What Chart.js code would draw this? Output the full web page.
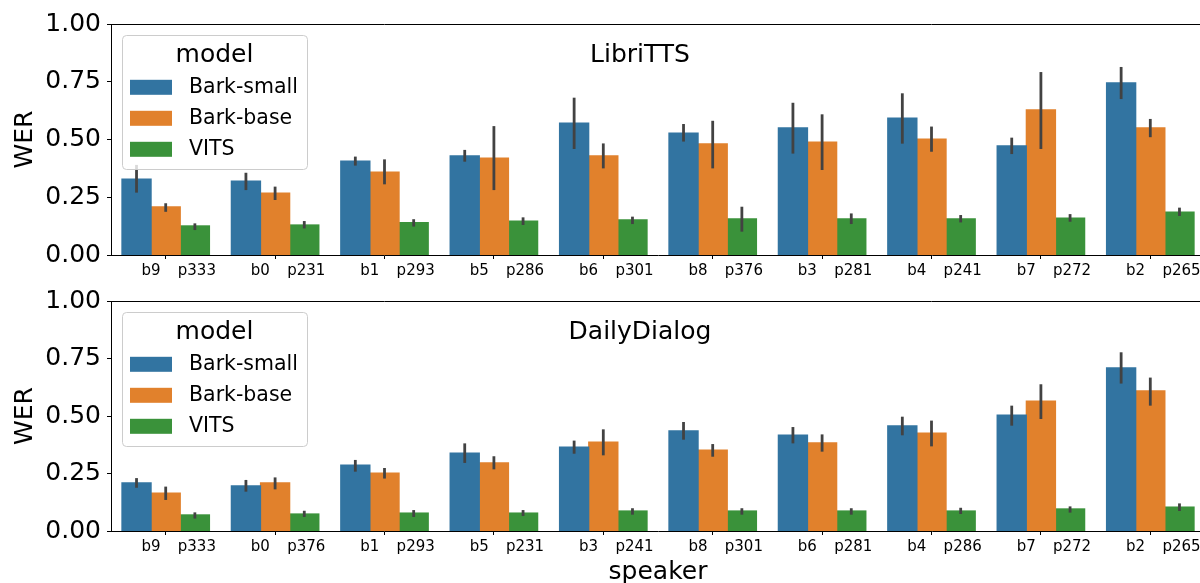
<!DOCTYPE html>
<html>
<head>
<meta charset="utf-8">
<script src="https://cdn.jsdelivr.net/npm/chart.js@4.4.1/dist/chart.umd.min.js"></script>
<style>
html, body { margin: 0; padding: 0; background: #fff; overflow: hidden; width: 1200px; height: 583px; }
canvas { position: absolute; left: 0; }
#libri { top: 0; }
#daily { top: 280px; }
</style>
</head>
<body>
<canvas id="libri" width="1210" height="280"></canvas>
<canvas id="daily" width="1210" height="310"></canvas>
<script>
// modelos y colores (paleta seaborn)
const models = ['Bark-small', 'Bark-base', 'VITS'];
const colors = ['#3274a1', '#e1812c', '#3a923a'];
const yTicks = [0, 0.25, 0.5, 0.75, 1.0];

// LibriTTS
const libriB = ['b9', 'b0', 'b1', 'b5', 'b6', 'b8', 'b3', 'b4', 'b7', 'b2'];
const libriP = ['p333', 'p231', 'p293', 'p286', 'p301', 'p376', 'p281', 'p241', 'p272', 'p265'];
const libriSmall   = [0.329, 0.320, 0.407, 0.429, 0.571, 0.528, 0.550, 0.593, 0.472, 0.745];
const libriSmallLo = [0.270, 0.281, 0.387, 0.404, 0.459, 0.491, 0.439, 0.482, 0.437, 0.675];
const libriSmallHi = [0.390, 0.356, 0.426, 0.455, 0.681, 0.567, 0.659, 0.700, 0.508, 0.814];
const libriBase    = [0.208, 0.268, 0.359, 0.420, 0.429, 0.481, 0.489, 0.502, 0.628, 0.550];
const libriBaseLo  = [0.187, 0.238, 0.306, 0.281, 0.375, 0.375, 0.368, 0.447, 0.459, 0.510];
const libriBaseHi  = [0.224, 0.296, 0.414, 0.558, 0.483, 0.581, 0.609, 0.556, 0.792, 0.589];
const libriVits    = [0.126, 0.130, 0.140, 0.147, 0.152, 0.156, 0.156, 0.156, 0.160, 0.186];
const libriVitsLo  = [0.108, 0.115, 0.123, 0.130, 0.134, 0.101, 0.134, 0.141, 0.144, 0.169];
const libriVitsHi  = [0.137, 0.147, 0.155, 0.163, 0.166, 0.209, 0.180, 0.173, 0.177, 0.205];

// DailyDialog
const dailyB = ['b9', 'b0', 'b1', 'b5', 'b3', 'b8', 'b6', 'b4', 'b7', 'b2'];
const dailyP = ['p333', 'p376', 'p293', 'p231', 'p241', 'p301', 'p281', 'p286', 'p272', 'p265'];
const dailySmall   = [0.209, 0.196, 0.287, 0.339, 0.365, 0.435, 0.417, 0.457, 0.504, 0.709];
const dailySmallLo = [0.188, 0.171, 0.258, 0.296, 0.336, 0.397, 0.381, 0.416, 0.458, 0.641];
const dailySmallHi = [0.230, 0.222, 0.309, 0.381, 0.393, 0.474, 0.452, 0.497, 0.545, 0.777];
const dailyBase    = [0.165, 0.209, 0.252, 0.296, 0.387, 0.352, 0.383, 0.426, 0.565, 0.609];
const dailyBaseLo  = [0.135, 0.181, 0.228, 0.268, 0.329, 0.323, 0.345, 0.368, 0.487, 0.545];
const dailyBaseHi  = [0.193, 0.233, 0.274, 0.325, 0.442, 0.378, 0.420, 0.480, 0.638, 0.667];
const dailyVits    = [0.070, 0.074, 0.078, 0.078, 0.087, 0.087, 0.087, 0.087, 0.096, 0.104];
const dailyVitsLo  = [0.054, 0.061, 0.061, 0.065, 0.071, 0.071, 0.071, 0.074, 0.080, 0.087];
const dailyVitsHi  = [0.081, 0.088, 0.091, 0.091, 0.099, 0.099, 0.099, 0.101, 0.107, 0.120];

const family = "'DejaVu Sans', sans-serif";

// barras de error, bordes superior/derecho, título interno y leyenda
const panelPlugin = {
    id: 'panel',
    afterDatasetsDraw(chart) {
        const ctx = chart.ctx;
        const y = chart.scales.y;
        ctx.save();
        ctx.strokeStyle = '#424242';
        ctx.lineWidth = 2.8;
        chart.data.datasets.forEach((ds, k) => {
            chart.getDatasetMeta(k).data.forEach((bar, j) => {
                ctx.beginPath();
                ctx.moveTo(bar.x, y.getPixelForValue(ds.errLo[j]));
                ctx.lineTo(bar.x, y.getPixelForValue(ds.errHi[j]));
                ctx.stroke();
            });
        });
        ctx.restore();
    },
    afterDraw(chart, args, opts) {
        const ctx = chart.ctx;
        const a = chart.chartArea;
        ctx.save();
        // spines
        ctx.strokeStyle = '#000';
        ctx.lineWidth = 1;
        ctx.beginPath();
        ctx.moveTo(a.left, a.top + 0.5);
        ctx.lineTo(a.right, a.top + 0.5);
        ctx.lineTo(a.right, a.bottom);
        ctx.stroke();

        // título dentro del panel
        ctx.fillStyle = '#000';
        ctx.font = '25px ' + family;
        ctx.textAlign = 'center';
        ctx.textBaseline = 'middle';
        ctx.fillText(opts.title, 640, a.top + 31);

        // leyenda
        const bx = a.left + 11, by = a.top + 11, bw = 185, bh = 134;
        ctx.beginPath();
        ctx.roundRect(bx + 0.5, by + 0.5, bw, bh, 4);
        ctx.fillStyle = 'rgba(255,255,255,0.8)';
        ctx.fill();
        ctx.strokeStyle = '#cccccc';
        ctx.stroke();

        ctx.fillStyle = '#000';
        ctx.font = '25px ' + family;
        ctx.fillText('model', bx + bw / 2, a.top + 31);

        ctx.font = '20.5px ' + family;
        ctx.textAlign = 'left';
        chart.data.datasets.forEach((ds, k) => {
            const cy = a.top + 63.3 + 31 * k;
            ctx.fillStyle = ds.backgroundColor;
            ctx.fillRect(a.left + 19, cy - 7.5, 42, 15);
            ctx.fillStyle = '#000';
            ctx.fillText(ds.label, a.left + 78, cy);
        });
        ctx.restore();
    }
};

function makeChart(id, title, bLabels, pLabels, vals, lows, highs, padTop, xHeight, showXTitle) {
    return new Chart(document.getElementById(id), {
        type: 'bar',
        data: {
            labels: bLabels.map((b, i) => b + '   \u2009' + pLabels[i]),
            datasets: models.map((m, k) => ({
                label: m,
                data: vals[k],
                backgroundColor: colors[k],
                borderWidth: 0,
                inflateAmount: 0.6,
                categoryPercentage: 0.8,
                barPercentage: 1.0,
                errLo: lows[k],
                errHi: highs[k]
            }))
        },
        options: {
            responsive: false,
            animation: false,
            devicePixelRatio: 1,
            layout: { padding: { top: padTop, right: 5, left: 0, bottom: 0 } },
            plugins: {
                legend: { display: false },
                tooltip: { enabled: false },
                panel: { title: title }
            },
            scales: {
                x: {
                    grid: { display: true, drawOnChartArea: false, drawTicks: true, tickLength: 4, color: '#000', offset: false },
                    border: { display: true, color: '#000', width: 1 },
                    ticks: { font: { family, size: 15 }, color: '#000', padding: 3, labelOffset: 13, maxRotation: 0, autoSkip: false },
                    title: { display: showXTitle, text: 'speaker', font: { family, size: 25 }, color: '#000', padding: { top: 0, bottom: 3 } },
                    afterFit: s => { s.height = xHeight; }
                },
                y: {
                    min: 0,
                    max: 1,
                    afterBuildTicks: s => { s.ticks = yTicks.map(v => ({ value: v })); },
                    ticks: { callback: v => v.toFixed(2), font: { family, size: 25 }, color: '#000', padding: 6 },
                    grid: { display: true, drawOnChartArea: false, drawTicks: true, tickLength: 4, color: '#000' },
                    border: { display: true, color: '#000', width: 1 },
                    title: { display: true, text: 'WER', font: { family, size: 25 }, color: '#000', padding: { top: 10, bottom: 0 } },
                    afterFit: s => { s.width = 111; }
                }
            }
        },
        plugins: [panelPlugin]
    });
}

makeChart('libri', 'LibriTTS', libriB, libriP,
    [libriSmall, libriBase, libriVits],
    [libriSmallLo, libriBaseLo, libriVitsLo],
    [libriSmallHi, libriBaseHi, libriVitsHi],
    24, 25, false);

makeChart('daily', 'DailyDialog', dailyB, dailyP,
    [dailySmall, dailyBase, dailyVits],
    [dailySmallLo, dailyBaseLo, dailyVitsLo],
    [dailySmallHi, dailyBaseHi, dailyVitsHi],
    21, 59, true);
</script>
</body>
</html>
